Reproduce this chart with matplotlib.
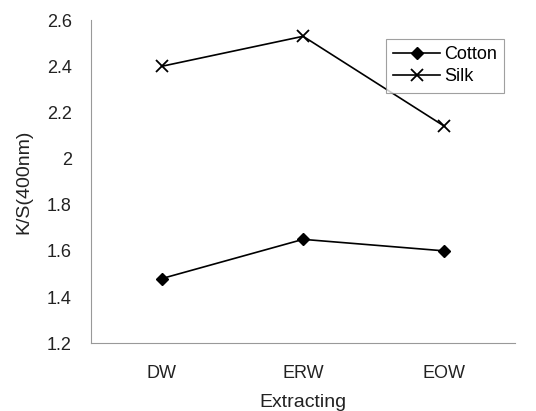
import matplotlib.pyplot as plt

# data
categories = ["DW", "ERW", "EOW"]
cotton = [1.48, 1.65, 1.60]
silk = [2.40, 2.53, 2.14]
yticks = [1.2, 1.4, 1.6, 1.8, 2.0, 2.2, 2.4, 2.6]
ytick_labels = ["1.2", "1.4", "1.6", "1.8", "2", "2.2", "2.4", "2.6"]

plt.rcParams['font.family'] = ['Liberation Sans', 'DejaVu Sans']

fig = plt.figure(figsize=(5.36, 4.11), dpi=100)
ax = fig.add_axes([0.170, 0.165, 0.791, 0.786])

x = range(len(categories))
ax.plot(x, cotton, color='black', lw=1.2, marker='D', ms=6, label='Cotton')
ax.plot(x, silk, color='black', lw=1.2, marker='x', ms=8, mew=1.3, label='Silk')

ax.set_xlim(-0.5, 2.5)
ax.set_ylim(1.2, 2.6)
ax.set_xticks(list(x))
ax.set_xticklabels(categories)
ax.set_yticks(yticks)
ax.set_yticklabels(ytick_labels)
ax.tick_params(axis='both', length=0, labelsize=13, colors='#222222')
ax.tick_params(axis='y', pad=14)
ax.tick_params(axis='x', pad=16)

ax.set_xlabel('Extracting', fontsize=14, color='#222222', labelpad=8)
ax.set_ylabel('K/S(400nm)', fontsize=14, color='#222222', labelpad=10)

for side in ['top', 'right']:
    ax.spines[side].set_visible(False)
for side in ['left', 'bottom']:
    ax.spines[side].set_color('#999999')
    ax.spines[side].set_linewidth(0.8)

leg = ax.legend(loc='upper right', bbox_to_anchor=(0.995, 0.97), fontsize=13,
                frameon=True, fancybox=False, handlelength=2.6,
                handletextpad=0.2, borderpad=0.4, labelspacing=0.3)
leg.get_frame().set_edgecolor('#888888')
leg.get_frame().set_linewidth(0.8)

fig.savefig('out.png', dpi=100)
